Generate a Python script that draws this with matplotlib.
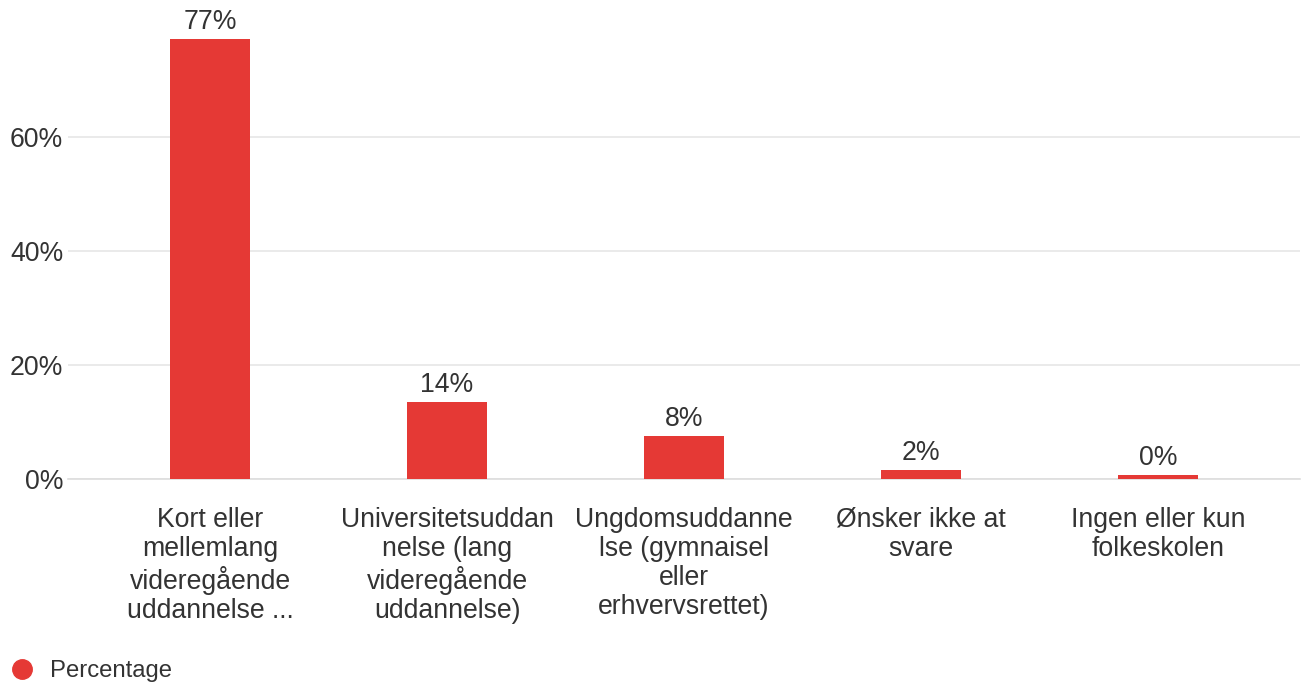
import matplotlib.pyplot as plt
from matplotlib.lines import Line2D

plt.rcParams['font.family'] = ['Liberation Sans', 'DejaVu Sans']

categories = [
    "Kort eller\nmellemlang\nvideregående\nuddannelse ...",
    "Universitetsuddan\nnelse (lang\nvideregående\nuddannelse)",
    "Ungdomsuddanne\nlse (gymnaisel\neller\nerhvervsrettet)",
    "Ønsker ikke at\nsvare",
    "Ingen eller kun\nfolkeskolen",
]
percentages = [77.2, 13.5, 7.5, 1.5, 0.7]
value_labels = ["77%", "14%", "8%", "2%", "0%"]
yticks = [0, 20, 40, 60]

red = "#e53935"
text_col = "#333333"
fs = 19.2

fig = plt.figure(figsize=(13.04, 6.86), dpi=100)
ax = fig.add_axes([68 / 1304, 1 - 479 / 686, 1232 / 1304, 456 / 686])

x = range(len(categories))
bars = ax.bar(x, percentages, width=0.34, color=red, zorder=3)

for b, lab in zip(bars, value_labels):
    ax.annotate(lab, (b.get_x() + b.get_width() / 2, b.get_height()),
                xytext=(0, 3), textcoords="offset points", ha="center", va="bottom",
                fontsize=fs, color=text_col)

ax.set_xlim(-0.6, 4.6)
ax.set_ylim(0, 80)
ax.set_yticks(yticks)
ax.set_yticklabels([f"{t}%" for t in yticks], fontsize=fs, color=text_col)
ax.set_xticks(list(x))
ax.set_xticklabels(categories, fontsize=fs, color=text_col, linespacing=1.16)
ax.tick_params(axis="both", length=0)
ax.tick_params(axis="x", pad=20)
ax.tick_params(axis="y", pad=3.5)
ax.yaxis.grid(True, color="#e6e6e6", linewidth=1.2, zorder=0)
for s in ["top", "right", "left"]:
    ax.spines[s].set_visible(False)
ax.spines["bottom"].set_color("#dddddd")
ax.spines["bottom"].set_linewidth(1.2)

handle = Line2D([], [], marker="o", ls="", color=red, markersize=14)
fig.legend(handles=[handle], labels=["Percentage"], loc="center left",
           bbox_to_anchor=(10 / 1304, 1 - 671 / 686), frameon=False, fontsize=17.2,
           handlelength=1.0, handletextpad=0.67, borderaxespad=0, borderpad=0,
           labelcolor=text_col)

fig.savefig("out.png", dpi=100)
